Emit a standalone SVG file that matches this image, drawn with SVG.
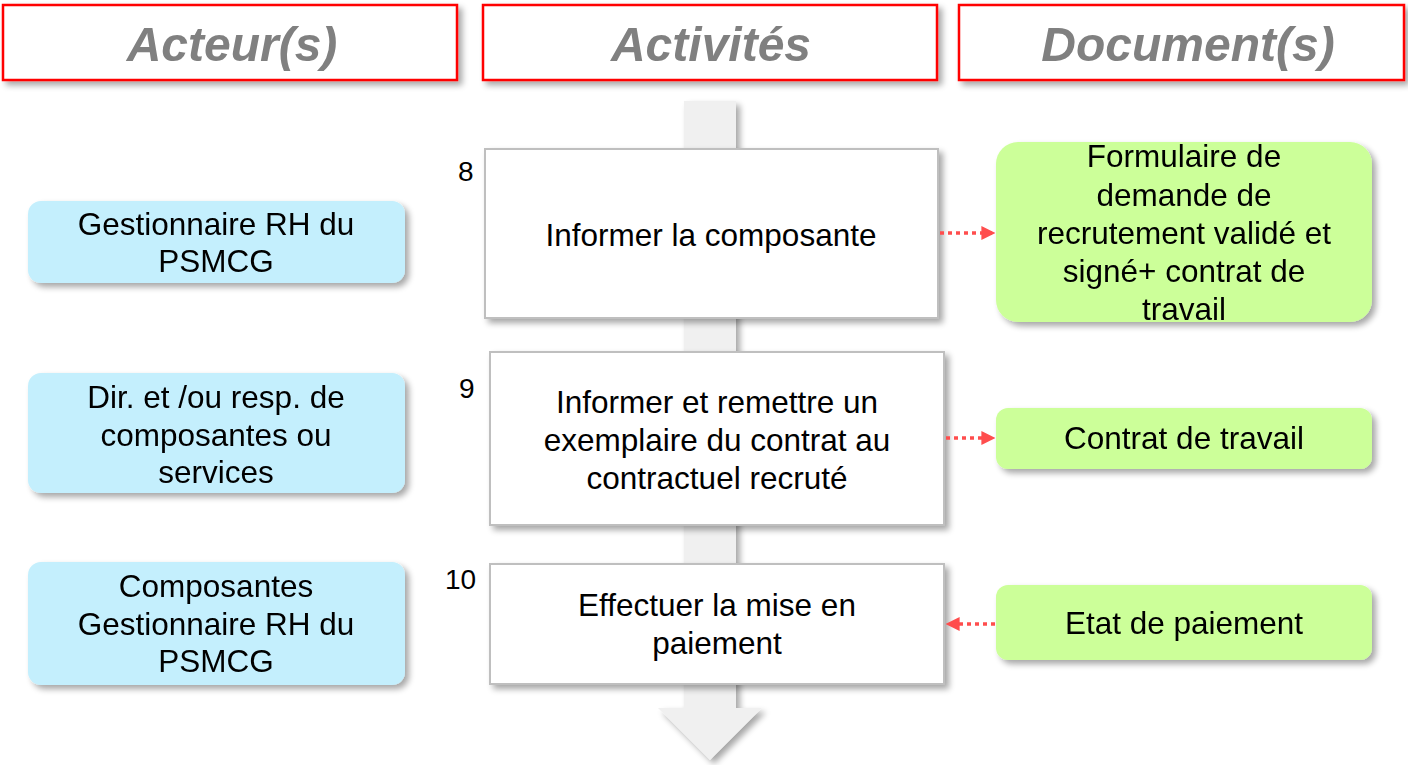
<svg xmlns="http://www.w3.org/2000/svg" width="1408" height="765" viewBox="0 0 1408 765">
<defs>
<filter id="sh" x="-10%" y="-10%" width="125%" height="135%">
<feGaussianBlur in="SourceAlpha" stdDeviation="3"/>
<feOffset dx="4" dy="4" result="b"/>
<feComponentTransfer><feFuncA type="linear" slope="0.35"/></feComponentTransfer>
<feMerge><feMergeNode/><feMergeNode in="SourceGraphic"/></feMerge>
</filter>
<marker id="ah" viewBox="0 0 10 10" refX="9" refY="5" markerWidth="4" markerHeight="4" orient="auto-start-reverse" markerUnits="strokeWidth">
<path d="M0,0 L10,5 L0,10 z" fill="#ff4d4d"/>
</marker>
</defs>
<style>
.hdr{fill:#fff;stroke:#ff0000;stroke-width:2.5}
.ht{font-family:"Liberation Sans",Arial,sans-serif;font-size:48px;font-weight:bold;font-style:italic;fill:#808080;text-anchor:middle}
.act{fill:#c4effd}
.doc{fill:#ccff99}
.box{fill:#fff;stroke:#bfbfbf;stroke-width:2}
.t{font-family:"Liberation Sans",Arial,sans-serif;font-size:31.5px;fill:#000;text-anchor:middle}
.n{font-family:"Liberation Sans",Arial,sans-serif;font-size:28px;fill:#000}
.c{stroke:#ff4d4d;stroke-width:3.5;stroke-dasharray:4 4;fill:none}
</style>
<rect width="1408" height="765" fill="#fff"/>
<g id="flow-arrow" filter="url(#sh)">
<path d="M684,101 L736,101 L736,708 L762,708 L710,760 L658,708 L684,708 Z" fill="#f0f0f0"/>
</g>
<g id="h-acteurs" filter="url(#sh)"><rect class="hdr" x="3" y="5" width="454" height="75"/><text class="ht" x="232" y="61">Acteur(s)</text></g>
<g id="h-activites" filter="url(#sh)"><rect class="hdr" x="483" y="5" width="454" height="75"/><text class="ht" x="711" y="61">Activités</text></g>
<g id="h-documents" filter="url(#sh)"><rect class="hdr" x="959" y="5" width="445" height="75"/><text class="ht" x="1188" y="61">Document(s)</text></g>

<g id="actor1" filter="url(#sh)"><rect class="act" x="28" y="201" width="377" height="82" rx="13"/>
<text class="t" x="216" y="235">Gestionnaire RH du</text><text class="t" x="216" y="272">PSMCG</text></g>
<g id="actor2" filter="url(#sh)"><rect class="act" x="28" y="373" width="377" height="120" rx="13"/>
<text class="t" x="216" y="408">Dir. et /ou resp. de</text><text class="t" x="216" y="446">composantes ou</text><text class="t" x="216" y="483">services</text></g>
<g id="actor3" filter="url(#sh)"><rect class="act" x="28" y="562" width="377" height="123" rx="13"/>
<text class="t" x="216" y="597">Composantes</text><text class="t" x="216" y="635">Gestionnaire RH du</text><text class="t" x="216" y="672">PSMCG</text></g>

<g id="step8"><rect class="box" x="485" y="149" width="453" height="169" filter="url(#sh)"/>
<text class="t" x="711" y="246">Informer la composante</text><text class="n" x="458" y="181">8</text></g>
<g id="step9"><rect class="box" x="490" y="352" width="454" height="173" filter="url(#sh)"/>
<text class="t" x="717" y="413">Informer et remettre un</text><text class="t" x="717" y="451">exemplaire du contrat au</text><text class="t" x="717" y="489">contractuel recruté</text><text class="n" x="459" y="398">9</text></g>
<g id="step10"><rect class="box" x="490" y="564" width="454" height="120" filter="url(#sh)"/>
<text class="t" x="717" y="616">Effectuer la mise en</text><text class="t" x="717" y="654">paiement</text><text class="n" x="445" y="589">10</text></g>

<g id="doc1" filter="url(#sh)"><rect class="doc" x="996" y="142" width="376" height="180" rx="22"/>
<text class="t" x="1184" y="167">Formulaire de</text><text class="t" x="1184" y="206">demande de</text><text class="t" x="1184" y="244">recrutement validé et</text><text class="t" x="1184" y="282">signé+ contrat de</text><text class="t" x="1184" y="320">travail</text></g>
<g id="doc2" filter="url(#sh)"><rect class="doc" x="996" y="408" width="376" height="61" rx="12"/>
<text class="t" x="1184" y="449">Contrat de travail</text></g>
<g id="doc3" filter="url(#sh)"><rect class="doc" x="996" y="585" width="376" height="75" rx="12"/>
<text class="t" x="1184" y="634">Etat de paiement</text></g>

<g id="connectors">
<line class="c" x1="940" y1="233" x2="994" y2="233" marker-end="url(#ah)"/>
<line class="c" x1="946" y1="438" x2="994" y2="438" marker-end="url(#ah)"/>
<line class="c" x1="995" y1="624" x2="947" y2="624" marker-end="url(#ah)"/>
</g>
</svg>
